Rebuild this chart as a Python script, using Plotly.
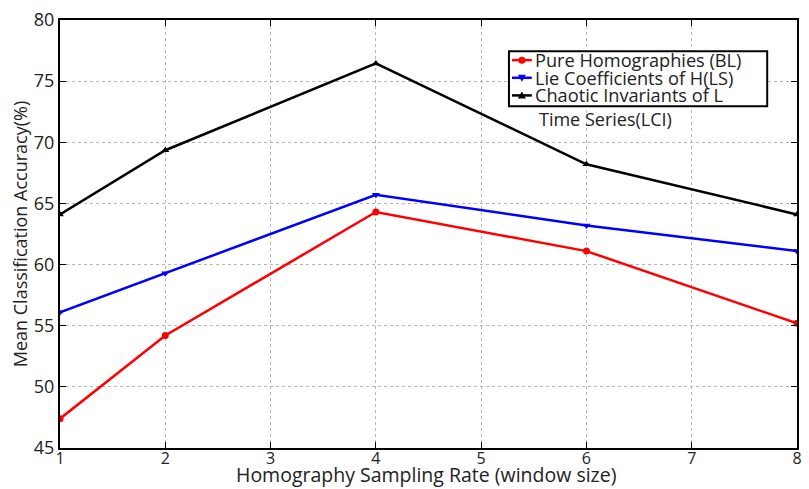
import plotly.graph_objects as go

x_vals = [1, 2, 4, 6, 8]
bl = [47.4, 54.2, 64.3, 61.1, 55.2]
ls = [56.1, 59.3, 65.7, 63.2, 61.1]
lci = [64.1, 69.35, 76.45, 68.2, 64.1]
names = ["Pure Homographies (BL)", "Lie Coefficients of H(LS)", "Chaotic Invariants of L"]
x_ticks = [1, 2, 3, 4, 5, 6, 7, 8]
y_ticks = [45, 50, 55, 60, 65, 70, 75, 80]
colors = ["#ff0000", "#0000ff", "#000000"]
symbols = ["circle", "triangle-down", "triangle-up"]

W, H = 809, 489
ML, MR, MT, MB = 60, 7, 11, 41
PW, PH = W - ML - MR, H - MT - MB


def px(xp):
    return (xp - ML) / PW


def py(yp):
    return (H - MB - yp) / PH


FONT = "Open Sans"
TXT = "#222222"
fig = go.Figure()
for ys, n, c, s in zip([bl, ls, lci], names, colors, symbols):
    fig.add_trace(go.Scatter(x=x_vals, y=ys, name=n, mode="lines+markers",
                             line=dict(color=c, width=2.5),
                             marker=dict(symbol=s, size=7, color=c)))

axis_common = dict(showgrid=True, gridcolor="#b5b5b5", griddash="dot", gridwidth=1,
                   showline=True, linecolor="black", linewidth=2, mirror="ticks",
                   ticks="inside", ticklen=6, tickcolor="black", zeroline=False,
                   ticklabeloverflow="allow")

fig.update_layout(
    width=W, height=H,
    margin=dict(l=ML, r=MR, t=MT, b=MB),
    paper_bgcolor="white", plot_bgcolor="white",
    font=dict(family=FONT, color=TXT, size=18),
    showlegend=False,
    xaxis=dict(range=[1, 8], tickvals=x_ticks, ticklabelstandoff=-5,
               tickfont=dict(size=16, color=TXT), **axis_common),
    yaxis=dict(range=[45, 80], tickvals=y_ticks, tickfont=dict(size=18, color=TXT),
               title=dict(text="Mean Classification Accuracy(%)", standoff=2,
                          font=dict(size=18, color=TXT)),
               **axis_common),
)

# x-axis title
fig.add_annotation(text="Homography Sampling Rate (window size)", xref="paper", yref="paper",
                   x=px(428), y=py(475.5), xanchor="center", yanchor="middle",
                   showarrow=False, font=dict(size=19.5, color=TXT))

# custom legend (compact like the original)
box = dict(x0=px(512), x1=px(772), y0=py(99), y1=py(43))
fig.add_shape(type="rect", xref="paper", yref="paper", line=dict(color="black", width=2),
              fillcolor="white", layer="above", **box)
rows = [52, 70, 88]
paths = {
    "circle": None,
    "triangle-down": "M-4,3 L4,3 L0,-4 Z",
    "triangle-up": "M-4,-3 L4,-3 L0,4 Z",
}
for n, c, s, r in zip(names, colors, symbols, rows):
    fig.add_shape(type="line", xref="paper", yref="paper", x0=px(515), x1=px(535),
                  y0=py(r), y1=py(r), line=dict(color=c, width=2.5), layer="above")
    if s == "circle":
        fig.add_shape(type="circle", xref="paper", yref="paper", xsizemode="pixel",
                      ysizemode="pixel", xanchor=px(525), yanchor=py(r),
                      x0=-3.5, x1=3.5, y0=-3.5, y1=3.5, fillcolor=c, line=dict(color=c, width=0),
                      layer="above")
    else:
        fig.add_shape(type="path", xref="paper", yref="paper", xsizemode="pixel",
                      ysizemode="pixel", xanchor=px(525), yanchor=py(r), path=paths[s],
                      fillcolor=c, line=dict(color=c, width=0), layer="above")
    fig.add_annotation(text=n, xref="paper", yref="paper", x=px(536), y=py(r),
                       xanchor="left", yanchor="middle", showarrow=False,
                       font=dict(size=18.2, color=TXT))

fig.add_annotation(text="Time Series(LCI)", xref="paper", yref="paper",
                   x=px(540), y=py(112), xanchor="left", yanchor="middle",
                   showarrow=False, font=dict(size=18, color=TXT))
fig.write_html("out.html")
